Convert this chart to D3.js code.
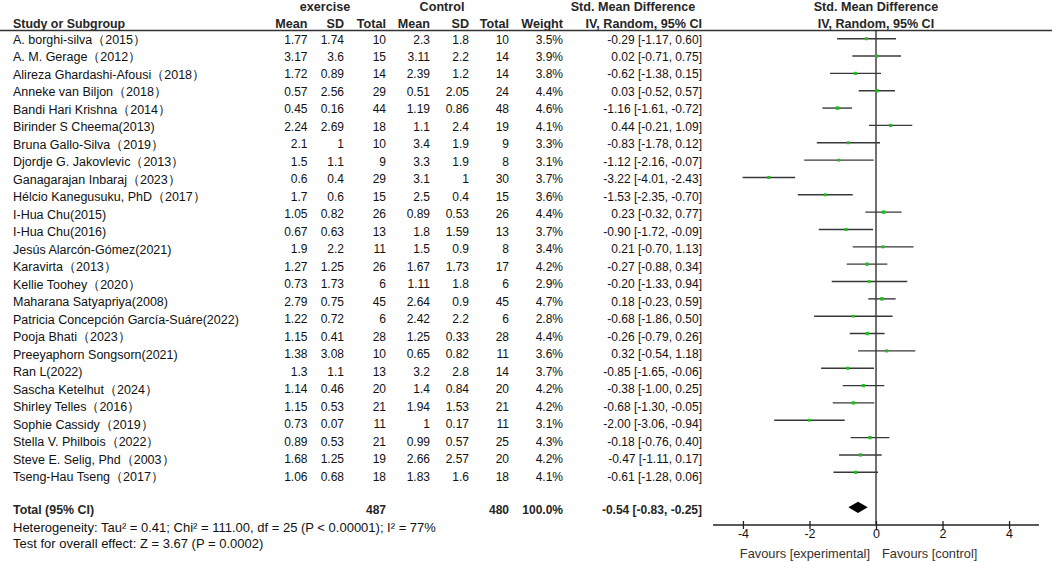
<!DOCTYPE html>
<html>
<head>
<meta charset="utf-8">
<script src="https://cdn.jsdelivr.net/npm/d3@7"></script>
<style>
  body { margin: 0; background: #fff; }
  svg text { font-family: "Liberation Sans", Arial, sans-serif; }
</style>
</head>
<body>
<div class="canvas"></div>
<script>
// study data
const studies = [
  "A. borghi-silva（2015）", "A. M. Gerage（2012）", "Alireza Ghardashi-Afousi（2018）",
  "Anneke van Biljon（2018）", "Bandi Hari Krishna（2014）", "Birinder S Cheema(2013)",
  "Bruna Gallo-Silva（2019）", "Djordje G. Jakovlevic（2013）", "Ganagarajan Inbaraj（2023）",
  "Hélcio Kanegusuku, PhD（2017）", "I-Hua Chu(2015)", "I-Hua Chu(2016)",
  "Jesús Alarcón-Gómez(2021)", "Karavirta（2013）", "Kellie Toohey（2020）",
  "Maharana Satyapriya(2008)", "Patricia Concepción García-Suáre(2022)", "Pooja Bhati（2023）",
  "Preeyaphorn Songsorn(2021)", "Ran L(2022)", "Sascha Ketelhut（2024）",
  "Shirley Telles（2016）", "Sophie Cassidy（2019）", "Stella V. Philbois（2022）",
  "Steve E. Selig, Phd（2003）", "Tseng-Hau Tseng（2017）"
]
const expMean = [1.77, 3.17, 1.72, 0.57, 0.45, 2.24, 2.1, 1.5, 0.6, 1.7, 1.05, 0.67, 1.9, 1.27, 0.73, 2.79, 1.22, 1.15, 1.38, 1.3, 1.14, 1.15, 0.73, 0.89, 1.68, 1.06]
const expSD   = [1.74, 3.6, 0.89, 2.56, 0.16, 2.69, 1, 1.1, 0.4, 0.6, 0.82, 0.63, 2.2, 1.25, 1.73, 0.75, 0.72, 0.41, 3.08, 1.1, 0.46, 0.53, 0.07, 0.53, 1.25, 0.68]
const expN    = [10, 15, 14, 29, 44, 18, 10, 9, 29, 15, 26, 13, 11, 26, 6, 45, 6, 28, 10, 13, 20, 21, 11, 21, 19, 18]
const ctlMean = [2.3, 3.11, 2.39, 0.51, 1.19, 1.1, 3.4, 3.3, 3.1, 2.5, 0.89, 1.8, 1.5, 1.67, 1.11, 2.64, 2.42, 1.25, 0.65, 3.2, 1.4, 1.94, 1, 0.99, 2.66, 1.83]
const ctlSD   = [1.8, 2.2, 1.2, 2.05, 0.86, 2.4, 1.9, 1.9, 1, 0.4, 0.53, 1.59, 0.9, 1.73, 1.8, 0.9, 2.2, 0.33, 0.82, 2.8, 0.84, 1.53, 0.17, 0.57, 2.57, 1.6]
const ctlN    = [10, 14, 14, 24, 48, 19, 9, 8, 30, 15, 26, 13, 8, 17, 6, 45, 6, 28, 11, 14, 20, 21, 11, 25, 20, 18]
const weight  = [3.5, 3.9, 3.8, 4.4, 4.6, 4.1, 3.3, 3.1, 3.7, 3.6, 4.4, 3.7, 3.4, 4.2, 2.9, 4.7, 2.8, 4.4, 3.6, 3.7, 4.2, 4.2, 3.1, 4.3, 4.2, 4.1]
const smd     = [-0.29, 0.02, -0.62, 0.03, -1.16, 0.44, -0.83, -1.12, -3.22, -1.53, 0.23, -0.90, 0.21, -0.27, -0.20, 0.18, -0.68, -0.26, 0.32, -0.85, -0.38, -0.68, -2.00, -0.18, -0.47, -0.61]
const ciLow   = [-1.17, -0.71, -1.38, -0.52, -1.61, -0.21, -1.78, -2.16, -4.01, -2.35, -0.32, -1.72, -0.70, -0.88, -1.33, -0.23, -1.86, -0.79, -0.54, -1.65, -1.00, -1.30, -3.06, -0.76, -1.11, -1.28]
const ciHigh  = [0.60, 0.75, 0.15, 0.57, -0.72, 1.09, 0.12, -0.07, -2.43, -0.70, 0.77, -0.09, 1.13, 0.34, 0.94, 0.59, 0.50, 0.26, 1.18, -0.06, 0.25, -0.05, -0.94, 0.40, 0.17, 0.06]

// pooled result
const total = { expN: 487, ctlN: 480, weight: 100.0, smd: -0.54, lo: -0.83, hi: -0.25 }
const heterogeneity = "Heterogeneity: Tau² = 0.41; Chi² = 111.00, df = 25 (P < 0.00001); I² = 77%"
const overallTest = "Test for overall effect: Z = 3.67 (P = 0.0002)"
const tickValues = [-4, -2, 0, 2, 4]
const favours = ["Favours [experimental]", "Favours [control]"]

const rows = studies.map((name, i) => ({
  name, i,
  expMean: expMean[i], expSD: expSD[i], expN: expN[i],
  ctlMean: ctlMean[i], ctlSD: ctlSD[i], ctlN: ctlN[i],
  weight: weight[i], smd: smd[i], lo: ciLow[i], hi: ciHigh[i]
}))

// plain hyphen for minus, like the original
const fmt2 = v => v.toFixed(2)
const ciText = (m, lo, hi) => `${fmt2(m)} [${fmt2(lo)}, ${fmt2(hi)}]`

const svg = d3.select(".canvas").append("svg")
    .attr("width", 1052)
    .attr("height", 562)

// row positions (text and plot lines sit slightly differently in the original)
const yText = d3.scaleLinear().domain([0, 25]).range([39.3, 476.7])
const yPlot = d3.scaleLinear().domain([0, 25]).range([38.7, 472.3])
const x = d3.scaleLinear().domain([-4.9, 4.9]).range([713, 1039])
const box = d3.scaleSqrt().domain([0, 5]).range([0, 3.6])

// right edges of table columns
const cols = ["expMean", "expSD", "expN", "ctlMean", "ctlSD", "ctlN", "weight", "ci"]
const colX = d3.scaleOrdinal().domain(cols).range([307.5, 344, 386, 430, 469, 509, 563, 702])

const headColor = "#262626"
const textColor = "#111"

// headers
const head = svg.append("g")
    .attr("font-weight", "bold")
    .attr("font-size", 12.6)
    .attr("fill", headColor)

head.append("text").attr("x", 325).attr("y", 7).attr("dy", "0.35em")
    .attr("text-anchor", "middle").text("exercise")
head.append("text").attr("x", 442).attr("y", 7).attr("dy", "0.35em")
    .attr("text-anchor", "middle").text("Control")
head.append("text").attr("x", 633).attr("y", 7).attr("dy", "0.35em")
    .attr("text-anchor", "middle").text("Std. Mean Difference")
head.append("text").attr("x", x(0)).attr("y", 7).attr("dy", "0.35em")
    .attr("text-anchor", "middle").text("Std. Mean Difference")

head.append("text").attr("x", 13).attr("y", 24).attr("dy", "0.35em")
    .attr("font-size", 12.4).text("Study or Subgroup")
const subHeads = ["Mean", "SD", "Total", "Mean", "SD", "Total", "Weight", "IV, Random, 95% CI"]
head.selectAll(".sub")
  .data(subHeads)
  .join("text")
    .attr("x", (d, i) => colX(cols[i]))
    .attr("y", 24)
    .attr("dy", "0.35em")
    .attr("text-anchor", "end")
    .text(d => d)
head.append("text").attr("x", x(0)).attr("y", 24).attr("dy", "0.35em")
    .attr("text-anchor", "middle").text("IV, Random, 95% CI")

svg.append("line")
    .attr("x1", 0).attr("x2", 1052)
    .attr("y1", 30.5).attr("y2", 30.5)
    .attr("stroke", "#333")
    .attr("stroke-width", 1.6)

// study rows
const body = svg.append("g").attr("fill", textColor)

body.selectAll(".name")
  .data(rows)
  .join("text")
    .attr("x", 13)
    .attr("y", d => yText(d.i))
    .attr("dy", "0.35em")
    .attr("font-size", 12.5)
    .text(d => d.name)

const cellText = (d, key) => key === "weight" ? d.weight.toFixed(1) + "%"
  : key === "ci" ? ciText(d.smd, d.lo, d.hi) : String(d[key])

cols.forEach(key => {
  body.selectAll(".c-" + key)
    .data(rows)
    .join("text")
      .attr("class", "c-" + key)
      .attr("x", colX(key))
      .attr("y", d => yText(d.i))
      .attr("dy", "0.35em")
      .attr("text-anchor", "end")
      .attr("font-size", 12)
      .text(d => cellText(d, key))
})

// total row
const totY = 509.3
const tot = svg.append("g").attr("font-weight", "bold").attr("fill", headColor)
tot.append("text").attr("x", 13).attr("y", totY).attr("dy", "0.35em")
    .attr("font-size", 12.4).text("Total (95% CI)")
tot.append("text").attr("x", colX("expN")).attr("y", totY).attr("dy", "0.35em")
    .attr("text-anchor", "end").attr("font-size", 12).text(total.expN)
tot.append("text").attr("x", colX("ctlN")).attr("y", totY).attr("dy", "0.35em")
    .attr("text-anchor", "end").attr("font-size", 12).text(total.ctlN)
tot.append("text").attr("x", colX("weight")).attr("y", totY).attr("dy", "0.35em")
    .attr("text-anchor", "end").attr("font-size", 12).text(total.weight.toFixed(1) + "%")
tot.append("text").attr("x", colX("ci")).attr("y", totY).attr("dy", "0.35em")
    .attr("text-anchor", "end").attr("font-size", 12).text(ciText(total.smd, total.lo, total.hi))

svg.append("text").attr("x", 13).attr("y", 527.5).attr("dy", "0.35em")
    .attr("font-size", 13).attr("fill", textColor).text(heterogeneity)
svg.append("text").attr("x", 13).attr("y", 543.5).attr("dy", "0.35em")
    .attr("font-size", 13).attr("fill", textColor).text(overallTest)

// forest plot
const axisY = 525

svg.append("line")
    .attr("x1", x(0)).attr("x2", x(0))
    .attr("y1", 30.5).attr("y2", axisY)
    .attr("stroke", "#111")
    .attr("stroke-width", 1.2)

const plot = svg.append("g")

plot.selectAll(".ci")
  .data(rows)
  .join("line")
    .attr("x1", d => x(d.lo))
    .attr("x2", d => x(d.hi))
    .attr("y1", d => yPlot(d.i))
    .attr("y2", d => yPlot(d.i))
    .attr("stroke", "#383838")
    .attr("stroke-width", 1.4)

plot.selectAll(".box")
  .data(rows)
  .join("rect")
    .attr("x", d => x(d.smd) - box(d.weight) / 2)
    .attr("y", d => yPlot(d.i) - box(d.weight) / 2)
    .attr("width", d => box(d.weight))
    .attr("height", d => box(d.weight))
    .attr("fill", "#1fbf1f")

const dy = 5.6
const dmY = 507.3
plot.append("path")
    .attr("d", `M${x(total.lo)},${dmY} L${x(total.smd)},${dmY - dy} L${x(total.hi)},${dmY} L${x(total.smd)},${dmY + dy} Z`)
    .attr("fill", "#000")

// axis: ticks cross the line, so draw them 8px long shifted up by 4
const axis = svg.append("g")
    .attr("transform", `translate(0,${axisY - 4})`)
    .call(d3.axisBottom(x).tickValues(tickValues).tickFormat(d => String(d))
      .tickSizeInner(8).tickSizeOuter(0))

axis.select(".domain").remove()
axis.selectAll(".tick line").attr("stroke", "#222").attr("stroke-width", 1.3)
axis.selectAll(".tick text")
    .attr("y", 13)
    .attr("dy", "0.35em")
    .attr("font-size", 12.5)
    .attr("fill", textColor)
    .attr("font-family", "Liberation Sans, Arial, sans-serif")

svg.append("line")
    .attr("x1", x.range()[0]).attr("x2", x.range()[1])
    .attr("y1", axisY).attr("y2", axisY)
    .attr("stroke", "#222")
    .attr("stroke-width", 1.4)

svg.append("text").attr("x", x(0) - 6).attr("y", 554).attr("dy", "0.35em")
    .attr("text-anchor", "end").attr("font-size", 12.8).attr("fill", "#333").text(favours[0])
svg.append("text").attr("x", x(0) + 6).attr("y", 554).attr("dy", "0.35em")
    .attr("text-anchor", "start").attr("font-size", 12.8).attr("fill", "#333").text(favours[1])
</script>
</body>
</html>
